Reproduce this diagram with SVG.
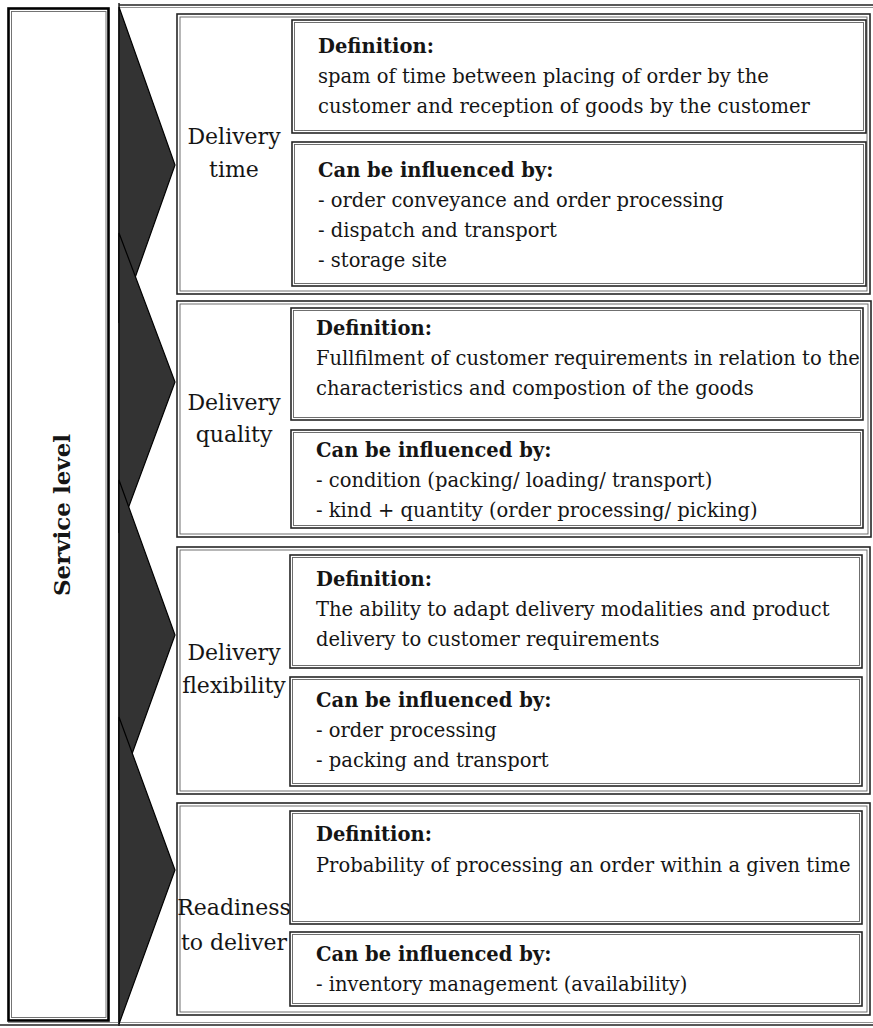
<svg xmlns="http://www.w3.org/2000/svg" width="873" height="1028" viewBox="0 0 873 1028">
<style>
.frame{fill:none;stroke:#222;stroke-width:1.5}
.box{fill:#fff;stroke:#262626;stroke-width:1.6}
.boxin{fill:none;stroke:#606060;stroke-width:0.9}
.chev{fill:#333;stroke:#000;stroke-width:1.2;stroke-linejoin:miter}
.t{font-family:"DejaVu Serif","Liberation Serif",serif;font-size:19.5px;fill:#151515}
.b{font-weight:bold}
.lab{font-family:"DejaVu Serif","Liberation Serif",serif;font-size:22px;fill:#151515;text-anchor:middle}
.title{font-family:"DejaVu Serif","Liberation Serif",serif;font-size:23px;font-weight:bold;fill:#151515;text-anchor:middle}
</style>
<rect width="873" height="1028" fill="#fff"/>
<g id="connectors">
<line class="frame" x1="119" y1="5" x2="873" y2="5"/>
<line x1="119" y1="7.5" x2="873" y2="7.5" stroke="#888" stroke-width="0.9"/>
<line class="frame" x1="119" y1="3" x2="119" y2="1026"/>
<line class="frame" x1="0" y1="1025" x2="873" y2="1025"/>
<line x1="8" y1="1022.5" x2="873" y2="1022.5" stroke="#888" stroke-width="0.9"/>
</g>
<g id="service-level">
<rect x="8.5" y="8.5" width="100" height="1012" fill="#fff" stroke="#000" stroke-width="2.6"/>
<rect x="11.5" y="11.5" width="94.5" height="1006" fill="none" stroke="#666" stroke-width="0.9"/>
<text class="title" transform="translate(70,515) rotate(-90)">Service level</text>
</g>
<g id="chevrons">
<polygon class="chev" points="119,7 175,165 119,323"/>
<polygon class="chev" points="119,233 175,382 119,533"/>
<polygon class="chev" points="119,480 175,635 119,790"/>
<polygon class="chev" points="119,717 175,870 119,1024"/>
</g>
<g id="delivery-time">
<rect class="box" x="177" y="14" width="693" height="280"/>
<rect class="boxin" x="180" y="17" width="687" height="274"/>
<text class="lab" x="234" y="144">Delivery</text>
<text class="lab" x="234" y="177">time</text>
<g id="dt-definition">
<rect class="box" x="292" y="20" width="574" height="113"/>
<rect class="boxin" x="294.5" y="22.5" width="569" height="108"/>
<text class="t b" x="318" y="53">Definition:</text>
<text class="t" x="318" y="83">spam of time between placing of order by the</text>
<text class="t" x="318" y="113">customer and reception of goods by the customer</text>
</g>
<g id="dt-influence">
<rect class="box" x="292" y="142" width="574" height="144"/>
<rect class="boxin" x="294.5" y="144.5" width="569" height="139"/>
<text class="t b" x="318" y="177">Can be influenced by:</text>
<text class="t" x="318" y="207">- order conveyance and order processing</text>
<text class="t" x="318" y="237">- dispatch and transport</text>
<text class="t" x="318" y="267">- storage site</text>
</g>
</g>
<g id="delivery-quality">
<rect class="box" x="177" y="301" width="694" height="236"/>
<rect class="boxin" x="180" y="304" width="688" height="230"/>
<text class="lab" x="234" y="410">Delivery</text>
<text class="lab" x="234" y="442">quality</text>
<g id="dq-definition">
<rect class="box" x="291" y="308" width="572" height="112"/>
<rect class="boxin" x="293.5" y="310.5" width="567" height="107"/>
<text class="t b" x="316" y="335">Definition:</text>
<text class="t" x="316" y="365">Fullfilment of customer requirements in relation to the</text>
<text class="t" x="316" y="395">characteristics and compostion of the goods</text>
</g>
<g id="dq-influence">
<rect class="box" x="291" y="430" width="572" height="98"/>
<rect class="boxin" x="293.5" y="432.5" width="567" height="93"/>
<text class="t b" x="316" y="457">Can be influenced by:</text>
<text class="t" x="316" y="487">- condition (packing/ loading/ transport)</text>
<text class="t" x="316" y="517">- kind + quantity (order processing/ picking)</text>
</g>
</g>
<g id="delivery-flexibility">
<rect class="box" x="177" y="547" width="693" height="247"/>
<rect class="boxin" x="180" y="550" width="687" height="241"/>
<text class="lab" x="234" y="660">Delivery</text>
<text class="lab" x="234" y="693">flexibility</text>
<g id="df-definition">
<rect class="box" x="290" y="555" width="572" height="113"/>
<rect class="boxin" x="292.5" y="557.5" width="567" height="108"/>
<text class="t b" x="316" y="586">Definition:</text>
<text class="t" x="316" y="616">The ability to adapt delivery modalities and product</text>
<text class="t" x="316" y="646">delivery to customer requirements</text>
</g>
<g id="df-influence">
<rect class="box" x="290" y="677" width="572" height="109"/>
<rect class="boxin" x="292.5" y="679.5" width="567" height="104"/>
<text class="t b" x="316" y="707">Can be influenced by:</text>
<text class="t" x="316" y="737">- order processing</text>
<text class="t" x="316" y="767">- packing and transport</text>
</g>
</g>
<g id="readiness-to-deliver">
<rect class="box" x="177" y="803" width="693" height="212"/>
<rect class="boxin" x="180" y="806" width="687" height="206"/>
<text class="lab" x="234" y="915">Readiness</text>
<text class="lab" x="234" y="950">to deliver</text>
<g id="rd-definition">
<rect class="box" x="290" y="811" width="572" height="113"/>
<rect class="boxin" x="292.5" y="813.5" width="567" height="108"/>
<text class="t b" x="316" y="841">Definition:</text>
<text class="t" x="316" y="872">Probability of processing an order within a given time</text>
</g>
<g id="rd-influence">
<rect class="box" x="290" y="932" width="572" height="74"/>
<rect class="boxin" x="292.5" y="934.5" width="567" height="69"/>
<text class="t b" x="316" y="961">Can be influenced by:</text>
<text class="t" x="316" y="991">- inventory management (availability)</text>
</g>
</g>
</svg>
